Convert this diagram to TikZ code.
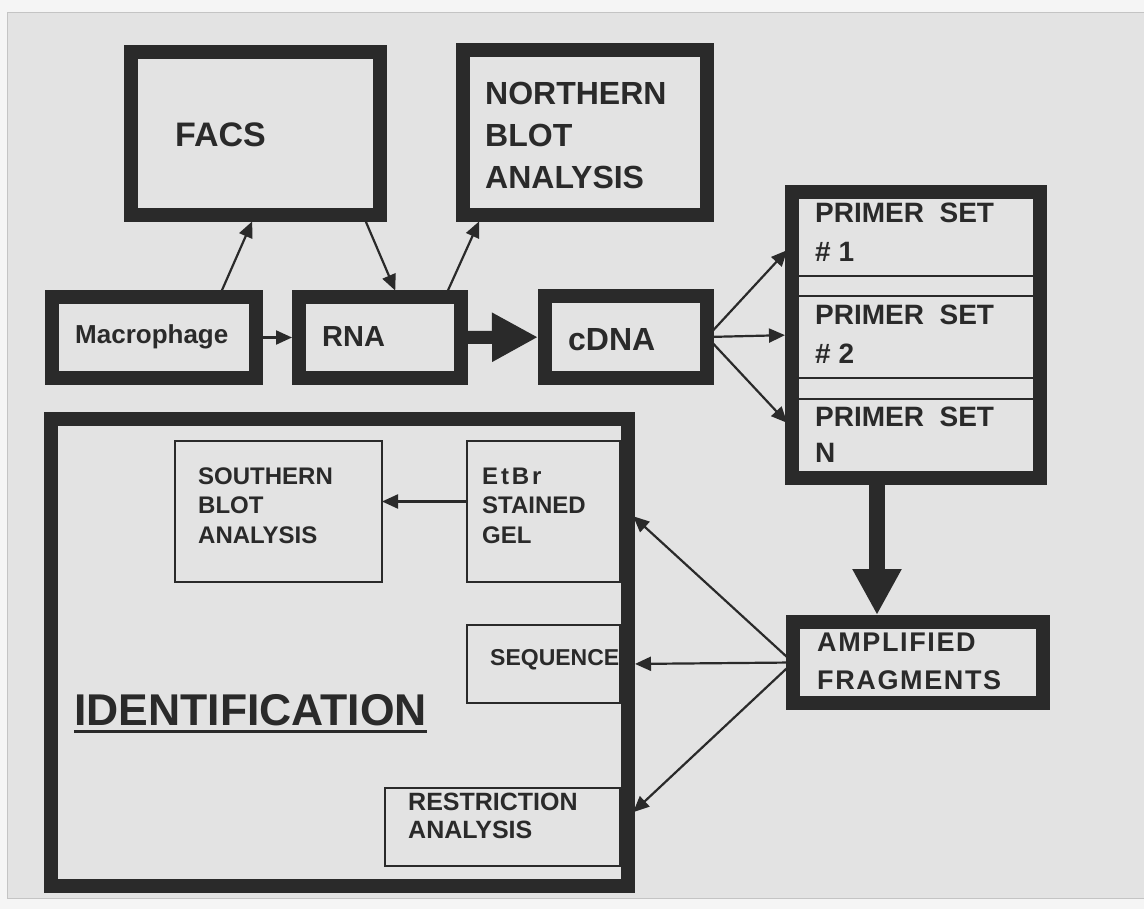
\documentclass[tikz,border=0pt]{standalone}
\usepackage{fontspec}
\setmainfont{Liberation Sans}
\newfontfamily\spaced[LetterSpace=12]{Liberation Sans}
\newfontfamily\wide[LetterSpace=6]{Liberation Sans}
\usetikzlibrary{arrows.meta,calc}
\definecolor{ink}{HTML}{2A2A2A}
\definecolor{paper}{HTML}{E3E3E3}
\definecolor{margin}{HTML}{F5F5F5}
\definecolor{edge}{HTML}{C4C4C4}
\newcommand{\fs}[2]{\fontsize{#1}{#2}\selectfont\bfseries}
\tikzset{
  heavy/.style={draw=ink, line width=14pt, inner sep=0pt, outer sep=0pt},
  light/.style={draw=ink, line width=2pt, inner sep=0pt, outer sep=0pt},
  txt/.style={anchor=west, align=left, inner sep=0pt, text=ink},
  arr/.style={draw=ink, line width=2.2pt, shorten >=7pt, -{Triangle[length=16pt,width=14pt]}},
  fat/.style={draw=ink, shorten >=7pt, -{Triangle[length=46pt,width=46pt]}}
}

\begin{document}
\begin{tikzpicture}[x=1pt, y=-1pt]
  \useasboundingbox (0,0) rectangle (1144,909);
  \fill[margin] (0,0) rectangle (1144,909);
  \filldraw[fill=paper, draw=edge, line width=1pt] (7,13) rectangle (1150,898);

  % boxes
  \foreach \n/\x/\y/\w/\h in {facs/255.5/133.5/249/163, north/585/132.5/244/165,
    macro/154/337.5/204/81, rna/380/337.5/162/81, cdna/626/337/162/82,
    primers/916/335/248/286, amp/918/662.5/250/81, ident/339.5/652.5/577/467}
    \node[heavy, minimum width=\w pt, minimum height=\h pt] (\n) at (\x,\y) {};
  \foreach \n/\x/\y/\w/\h in {south/278.5/511.5/207/141, etbr/543.5/511.5/153/141,
    seq/543.5/664/153/78, restr/502.5/827/235/78}
    \node[light, minimum width=\w pt, minimum height=\h pt] (\n) at (\x,\y) {};
  \foreach \y in {276,296,378,399}
    \draw[ink, line width=2pt] (799,\y) -- (1033,\y);

  \node[txt, font=\fs{34}{40}] (facs-t) at (175,135) {FACS};
  \node[txt, font=\fs{32}{42}] (north-t) at (485,135) {NORTHERN\\BLOT\\ANALYSIS};
  \node[txt, font=\fs{26}{30}] (macro-t) at (75,337) {Macrophage};
  \node[txt, font=\fs{29}{34}] (rna-t) at (322,337) {RNA};
  \node[txt, font=\fs{32}{38}] (cdna-t) at (568,340) {cDNA};
  \node[txt, font=\fs{28}{39}] (ps1) at (815,232) {PRIMER~~SET\\\# 1};
  \node[txt, font=\fs{28}{39}] (ps2) at (815,334) {PRIMER~~SET\\\# 2};
  \node[txt, font=\fs{28}{36}] (psn) at (815,435) {PRIMER~~SET\\N};
  \node[txt, font=\wide\fs{27}{38}] (amp-t) at (817,661) {AMPLIFIED\\FRAGMENTS};
  \node[txt, font=\fs{24}{29.5}] (south-t) at (198,505.5) {SOUTHERN\\BLOT\\ANALYSIS};
  \node[txt, font=\fs{24}{29.5}] (etbr-t) at (482,505.5) {{\spaced EtBr}\\STAINED\\GEL};
  \node[txt, font=\fs{23}{28}] (seq-t) at (490,660) {SEQUENCE};
  \node[txt, font=\fs{25}{28}] (restr-t) at (408,816) {RESTRICTION\\ANALYSIS};
  \node[txt, anchor=base west, font=\fs{44.5}{50}] (idt) at (74,725) {IDENTIFICATION};
  \draw[ink, line width=3pt] ($(idt.base west)+(0,6)$) -- ($(idt.base east)+(0,6)$);

  \draw[arr] (macro) -- (rna);
  \draw[arr] ([xshift=65pt]macro.north) -- ([xshift=-0.5pt]facs.south);
  \draw[arr] ([xshift=107.5pt]facs.south) -- ([xshift=18pt]rna.north);
  \draw[arr] ([xshift=65pt]rna.north) -- ([xshift=-103pt]north.south);
  \draw[fat, line width=13pt] (rna) -- (cdna);
  \draw[arr] (cdna.east) -- ([yshift=90pt]primers.west);
  \draw[arr] (cdna.east) -- (primers.west);
  \draw[arr] (cdna.east) -- ([yshift=-93pt]primers.west);
  \draw[fat, line width=16pt] ([xshift=-39pt]primers.south) -- ([xshift=-41pt]amp.north);
  \draw[arr] (amp.west) -- (ident.east |- etbr);
  \draw[arr] (amp.west) -- (ident.east |- seq);
  \draw[arr] (amp.west) -- ($(ident.east |- restr)+(0,-10)$);
  \draw[arr, shorten >=0pt] ([yshift=10pt]etbr.west) -- ([yshift=10pt]south.east);
\end{tikzpicture}
\end{document}
